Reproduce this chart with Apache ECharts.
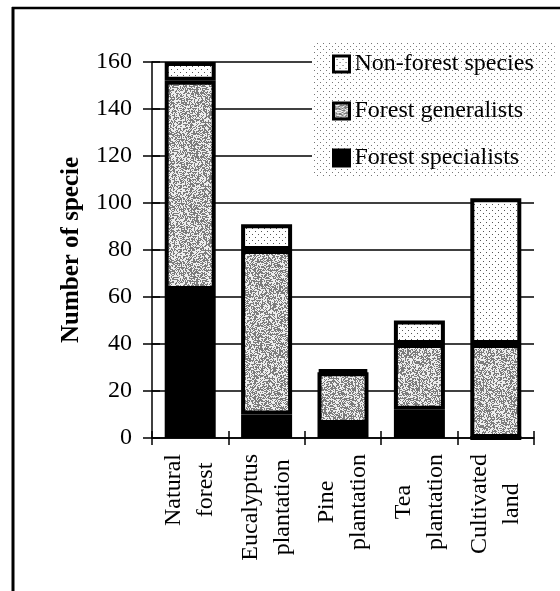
<!DOCTYPE html>
<html>
<head>
<meta charset="utf-8">
<script src="https://cdn.jsdelivr.net/npm/echarts@6/dist/echarts.min.js"></script>
<style>
  html, body { margin: 0; padding: 0; background: #fff; }
  #chart { width: 560px; height: 591px; }
</style>
</head>
<body>
<div id="chart"></div>
<script>
// Species counts per land-use type
const categories = ['Natural\nforest', 'Eucalyptus\nplantation', 'Pine\nplantation', 'Tea\nplantation', 'Cultivated\nland'];
const forestSpecialists = [63, 10, 6, 12, 0];
const forestGeneralists = [89, 70, 22, 28, 40];
const nonForestSpecies = [8, 11, 1, 10, 62];
const yTicks = { min: 0, max: 160, step: 20 };
const seriesNames = ['Forest specialists', 'Forest generalists', 'Non-forest species'];

const FONT = '"Liberation Serif", "Times New Roman", serif';

// Stipple textures for the printed look of the fills
function stipple(density, dark, light, size, seed) {
  const c = document.createElement('canvas');
  c.width = size; c.height = size;
  const ctx = c.getContext('2d');
  ctx.fillStyle = light;
  ctx.fillRect(0, 0, size, size);
  ctx.fillStyle = dark;
  let s = seed >>> 0;
  for (let y = 0; y < size; y++) {
    for (let x = 0; x < size; x++) {
      s = (s * 1664525 + 1013904223) >>> 0;
      if ((s / 4294967296) < density) ctx.fillRect(x, y, 1, 1);
    }
  }
  return { image: c, repeat: 'repeat' };
}
function gridDots(step, dark, light) {
  const c = document.createElement('canvas');
  c.width = step * 2; c.height = step * 2;
  const ctx = c.getContext('2d');
  ctx.fillStyle = light;
  ctx.fillRect(0, 0, c.width, c.height);
  ctx.fillStyle = dark;
  ctx.fillRect(0, 0, 1, 1);
  ctx.fillRect(step, step, 1, 1);
  return { image: c, repeat: 'repeat' };
}

const generalistFill = stipple(0.5, '#7c7c7c', '#eeeeee', 64, 7);
const nonForestFill = gridDots(3, '#555555', '#ffffff');
const legendFill = gridDots(3, '#777777', '#ffffff');

const chart = echarts.init(document.getElementById('chart'), null, { renderer: 'canvas' });

function barSeries(name, data, fill) {
  return {
    name: name,
    type: 'bar',
    stack: 'species',
    data: data,
    barWidth: 51,
    itemStyle: { color: fill, borderColor: '#000', borderWidth: 4 },
    emphasis: { disabled: true },
    animation: false
  };
}

const valueAxisBase = {
  type: 'value',
  min: yTicks.min,
  max: yTicks.max,
  interval: yTicks.step
};

chart.setOption({
  animation: false,
  textStyle: { fontFamily: FONT, color: '#000' },
  grid: { left: 152, right: 26, top: 62, bottom: 153 },
  legend: {
    data: ['Non-forest species', 'Forest generalists', 'Forest specialists'],
    orient: 'vertical',
    left: 312,
    top: 42,
    padding: [10, 21, 8, 20],
    icon: 'rect',
    itemWidth: 16,
    itemHeight: 16,
    itemGap: 23,
    backgroundColor: legendFill,
    itemStyle: { borderWidth: 3, borderColor: '#000' },
    textStyle: { fontFamily: FONT, fontSize: 24, color: '#000' },
    selectedMode: false
  },
  xAxis: [{
    type: 'category',
    data: categories,
    axisLine: { lineStyle: { color: '#000', width: 1.5 } },
    axisTick: { show: true, length: 7, lineStyle: { color: '#000', width: 1.5 } },
    axisLabel: {
      rotate: 90,
      margin: 16,
      interval: 0,
      formatter: function (v) {
        return v.split('\n').map(function (s) { return '{c|' + s + '}'; }).join('\n');
      },
      rich: { c: { align: 'center', fontFamily: FONT, fontSize: 24, lineHeight: 32, color: '#000' } }
    }
  }, {
    type: 'category',
    data: categories,
    position: 'bottom',
    axisLine: { show: false },
    axisTick: { show: true, inside: true, length: 7, lineStyle: { color: '#000', width: 1.5 } },
    axisLabel: { show: false }
  }],
  yAxis: [Object.assign({}, valueAxisBase, {
    name: 'Number of specie',
    nameLocation: 'middle',
    nameGap: 68,
    nameTextStyle: { fontFamily: FONT, fontSize: 25, fontWeight: 'bold', color: '#000' },
    axisLine: { show: true, lineStyle: { color: '#000', width: 1.5 } },
    axisTick: { show: true, length: 9, lineStyle: { color: '#000', width: 1.5 } },
    axisLabel: { margin: 20, fontFamily: FONT, fontSize: 24, color: '#000' },
    splitLine: { show: true, lineStyle: { color: '#000', width: 1.5 } }
  }), Object.assign({}, valueAxisBase, {
    position: 'left',
    axisLine: { show: false },
    axisTick: { show: true, inside: true, length: 8, lineStyle: { color: '#000', width: 1.5 } },
    axisLabel: { show: false },
    splitLine: { show: false }
  })],
  graphic: [
    { type: 'line', shape: { x1: 13, y1: 7, x2: 13, y2: 591 }, style: { stroke: '#000', lineWidth: 3 }, z: 10 },
    { type: 'line', shape: { x1: 12, y1: 8, x2: 560, y2: 8 }, style: { stroke: '#000', lineWidth: 2.5 }, z: 10 }
  ],
  series: [
    barSeries(seriesNames[0], forestSpecialists, '#000'),
    barSeries(seriesNames[1], forestGeneralists, generalistFill),
    barSeries(seriesNames[2], nonForestSpecies, nonForestFill)
  ]
});
</script>
</body>
</html>
